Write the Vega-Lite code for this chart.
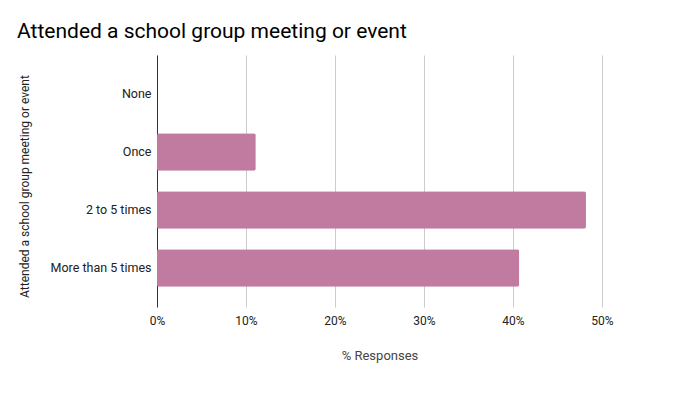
{
  "$schema": "https://vega.github.io/schema/vega-lite/v6.json",
  "width": 445,
  "height": 252,
  "autosize": "none",
  "padding": {"left": 157, "top": 55, "right": 93, "bottom": 89},
  "background": "white",
  "config": {
    "font": "Roboto",
    "view": {"stroke": null}
  },
  "title": {
    "text": "Attended a school group meeting or event",
    "anchor": "start",
    "frame": "bounds",
    "fontSize": 21,
    "fontWeight": "normal",
    "color": "#000000",
    "offset": 13,
    "dx": -1
  },
  "data": {
    "values": [
      {"category": "None", "share": 0},
      {"category": "Once", "share": 0.111},
      {"category": "2 to 5 times", "share": 0.482},
      {"category": "More than 5 times", "share": 0.407}
    ]
  },
  "mark": {"type": "bar", "color": "#c27ba0", "cornerRadius": 2},
  "encoding": {
    "y": {
      "field": "category",
      "type": "nominal",
      "sort": null,
      "scale": {"paddingInner": 0.357, "paddingOuter": 0.351},
      "axis": {
        "title": "Attended a school group meeting or event",
        "titleFontSize": 12,
        "titleFontWeight": "normal",
        "titleColor": "#222222",
        "titlePadding": 19,
        "titleY": 131,
        "labelFontSize": 12.5,
        "labelColor": "#222222",
        "labelPadding": 6,
        "ticks": false,
        "domain": true,
        "domainColor": "#333333",
        "domainWidth": 1
      }
    },
    "x": {
      "field": "share",
      "type": "quantitative",
      "scale": {"domain": [0, 0.5], "nice": false},
      "axis": {
        "title": "% Responses",
        "format": ".0%",
        "values": [0, 0.1, 0.2, 0.3, 0.4, 0.5],
        "titleFontSize": 13,
        "titleFontWeight": "normal",
        "titleColor": "#444444",
        "titlePadding": 23,
        "labelFontSize": 12,
        "labelColor": "#222222",
        "labelPadding": 8,
        "labelFlush": false,
        "ticks": false,
        "domain": false,
        "grid": true,
        "gridColor": "#cccccc",
        "gridWidth": 1
      }
    }
  }
}
